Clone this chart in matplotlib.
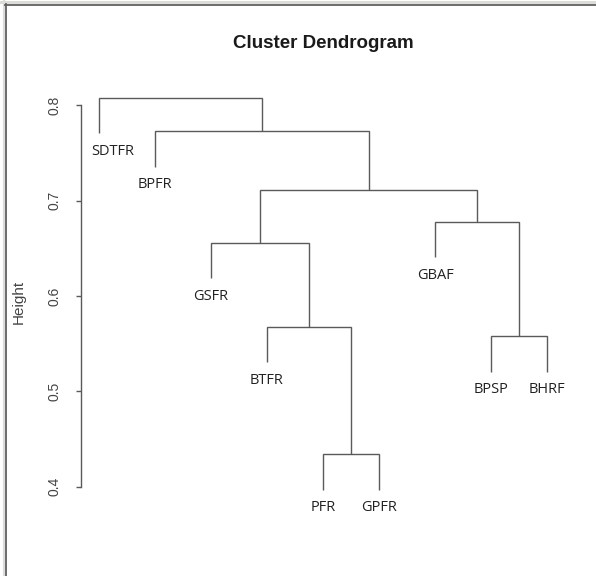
import numpy as np
import matplotlib.pyplot as plt
from matplotlib.lines import Line2D

# leaves in plotting order (left to right)
labels = ['SDTFR', 'BPFR', 'GSFR', 'BTFR', 'PFR', 'GPFR', 'GBAF', 'BPSP', 'BHRF']

# R-style merge table: negative = leaf index (1-based), positive = earlier merge step
merge_left = [-5, -8, -4, -3, -7, 4, -2, -1]
merge_right = [-6, -9, 1, 3, 2, 5, 6, 7]
merge_height = [0.434, 0.558, 0.568, 0.656, 0.678, 0.711, 0.773, 0.808]

yticks = [0.4, 0.5, 0.6, 0.7, 0.8]

W, H = 596, 576
line_col = '#5a5a5a'

fig = plt.figure(figsize=(W / 100, H / 100), dpi=100)
fig.patch.set_facecolor('white')

# axes placed like R's plot region
left_px, right_px, top_px, bottom_px = 81, 565, 82, 505.6
ax = fig.add_axes([left_px / W, 1 - bottom_px / H,
                   (right_px - left_px) / W, (bottom_px - top_px) / H])

hang = 0.1 * (max(merge_height) - min(merge_height))
leaf_x = {i + 1: i + 1 for i in range(len(labels))}
node_x = {}

def child_pos(c, h):
    if c < 0:
        return leaf_x[-c], h - hang
    return node_x[c], merge_height[c - 1]

leaf_ends = []
for k, (a, b, h) in enumerate(zip(merge_left, merge_right, merge_height)):
    x1, y1 = child_pos(a, h)
    x2, y2 = child_pos(b, h)
    ax.plot([x1, x1, x2, x2], [y1, h, h, y2], color=line_col, lw=1.0,
            solid_capstyle='butt', solid_joinstyle='miter')
    node_x[k + 1] = (x1 + x2) / 2
    for c, xx, yy in [(a, x1, y1), (b, x2, y2)]:
        if c < 0:
            leaf_ends.append((-c, xx, yy))

# leaf labels hang under the leaf ends
shift = {'SDTFR': 0.24}
for idx, xx, yy in leaf_ends:
    name = labels[idx - 1]
    ax.annotate(name, (xx + shift.get(name, 0), yy), xytext=(0, -7.5),
                textcoords='offset points', ha='center', va='top',
                fontsize=10.5, family='Open Sans', color='#222222')

n = len(labels)
ax.set_xlim(1 - 0.04 * (n - 1), n + 0.04 * (n - 1))
ymin = min(merge_height) - hang
ymax = max(merge_height)
ax.set_ylim(ymin - 0.04 * (ymax - ymin), ymax + 0.04 * (ymax - ymin))

for s in ['top', 'right', 'bottom']:
    ax.spines[s].set_visible(False)
ax.spines['left'].set_bounds(yticks[0], yticks[-1])
ax.spines['left'].set_color(line_col)
ax.spines['left'].set_linewidth(1.0)
ax.set_xticks([])
ax.set_yticks(yticks)
ax.set_yticklabels([str(t) for t in yticks], rotation=90, va='center',
                   family='Liberation Sans', fontsize=10, color='#444444')
ax.tick_params(axis='y', length=3.3, width=1.0, color=line_col, pad=10.5)
ax.patch.set_alpha(0)

fig.text((left_px + right_px) / 2 / W, 1 - 43 / H, 'Cluster Dendrogram',
         ha='center', va='center', fontsize=13.5, fontweight='bold',
         family='Liberation Sans', color='#1a1a1a')
fig.text(19 / W, 1 - 302 / H, 'Height', rotation=90, ha='center', va='center',
         fontsize=11, family='Liberation Sans', color='#444444')

# screenshot frame on top and left edges
fig.add_artist(Line2D([4 / W, 4 / W], [0, 1], transform=fig.transFigure,
                      color='#dcdcd8', lw=1.5))
fig.add_artist(Line2D([0, 1], [1 - 2 / H, 1 - 2 / H], transform=fig.transFigure,
                      color='#dcdcd8', lw=2.2))
fig.add_artist(Line2D([5.8 / W, 5.8 / W], [0, 1 - 4 / H], transform=fig.transFigure,
                      color='#606060', lw=1.3))
fig.add_artist(Line2D([5 / W, 1], [1 - 4.8 / H, 1 - 4.8 / H], transform=fig.transFigure,
                      color='#606060', lw=1.3))

fig.savefig('out.png', dpi=100)
